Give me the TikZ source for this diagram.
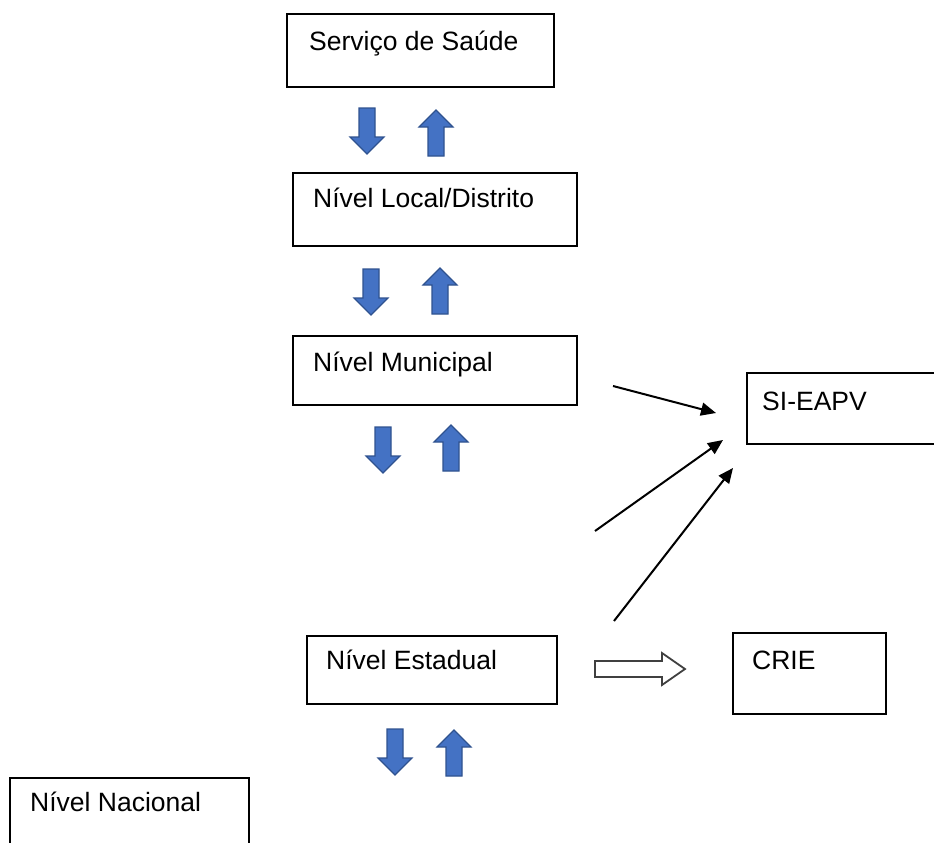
\documentclass[tikz,border=0pt]{standalone}
\usepackage{fontspec}
\setmainfont{Liberation Sans}
\usetikzlibrary{arrows.meta}
\definecolor{arrowblue}{HTML}{4472C4}
\definecolor{arrowedge}{HTML}{2F528F}
\definecolor{hollowedge}{HTML}{404040}
\tikzset{
  levelbox/.style={draw=black, line width=1.3pt},
  leveltext/.style={anchor=base west, inner sep=0pt, font=\fontsize{26.5}{31}\selectfont},
  flow/.style={line width=2pt, -{Triangle[length=15pt,width=13pt]}},
  blockarrow/.style={fill=arrowblue, draw=arrowedge, line width=1.2pt, line join=miter},
  downflow/.pic={\path[blockarrow] (-8,0) -- (8,0) -- (8,29) -- (17,29) -- (0,46) -- (-17,29) -- (-8,29) -- cycle;},
  upflow/.pic={\path[blockarrow] (0,0) -- (17,17) -- (8,17) -- (8,46) -- (-8,46) -- (-8,17) -- (-17,17) -- cycle;}
}
\begin{document}
\begin{tikzpicture}[x=1pt, y=-1pt]
\useasboundingbox (0,0) rectangle (934,843);

% boxes of the notification chain
\draw[levelbox] (287,14) rectangle (554,87);
\node[leveltext] (servico) at (309,51) {Serviço de Saúde};

\draw[levelbox] (293,173) rectangle (577,246);
\node[leveltext] (local) at (313,207) {Nível Local/Distrito};

\draw[levelbox] (293,336) rectangle (577,405);
\node[leveltext] (municipal) at (313,371) {Nível Municipal};

\draw[levelbox] (747,373) rectangle (940,444);
\node[leveltext] (sieapv) at (762,410) {SI-EAPV};

\draw[levelbox] (307,636) rectangle (557,704);
\node[leveltext] (estadual) at (326,669) {Nível Estadual};

\draw[levelbox] (733,633) rectangle (886,714);
\node[leveltext] (crie) at (752,669) {CRIE};

\draw[levelbox] (10,778) rectangle (249,860);
\node[leveltext] (nacional) at (30,811) {Nível Nacional};

% two-way block arrows between levels
\pic at (367,108) {downflow};
\pic at (436,110) {upflow};
\pic at (371,269) {downflow};
\pic at (440,268) {upflow};
\pic at (383,427) {downflow};
\pic at (451,425) {upflow};
\pic at (395,729) {downflow};
\pic at (454,730) {upflow};

% hollow arrow towards CRIE
\draw[hollowedge, line width=1.8pt, fill=white, line join=miter]
  (595,661) -- (662,661) -- (662,653) -- (685,669) -- (662,685) -- (662,677) -- (595,677) -- cycle;

% arrows feeding SI-EAPV
\coordinate (a1s) at (613,386);
\coordinate (a1e) at (716,413);
\coordinate (a2s) at (595,531);
\coordinate (a2e) at (723,440);
\coordinate (a3s) at (614,621);
\coordinate (a3e) at (733,468);
\draw[flow] (a1s) -- (a1e);
\draw[flow] (a2s) -- (a2e);
\draw[flow] (a3s) -- (a3e);
\end{tikzpicture}
\end{document}
